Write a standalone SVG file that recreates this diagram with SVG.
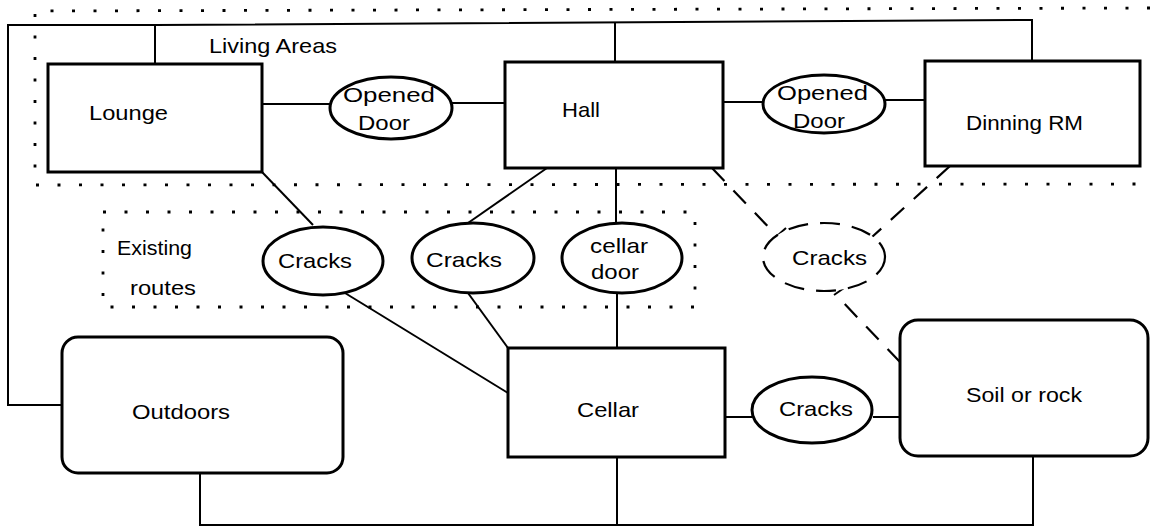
<svg xmlns="http://www.w3.org/2000/svg" width="1150" height="528" viewBox="0 0 1150 528">
<style>
.box{fill:#fff;stroke:#000;stroke-width:3}
.ell{fill:#fff;stroke:#000;stroke-width:3}
.dell{fill:#fff;stroke:#000;stroke-width:2.2;stroke-dasharray:20 12}
.ln{fill:none;stroke:#000;stroke-width:2}
.dln{fill:none;stroke:#000;stroke-width:2.2;stroke-dasharray:18 13}
.dot{fill:none;stroke:#000;stroke-width:2.8;stroke-dasharray:3 18.5}
text{font-family:"Liberation Sans",Arial,sans-serif;font-size:21px;fill:#000}
</style>
<rect width="1150" height="528" fill="#fff"/>
<g id="groups">
<path class="dot" d="M1150,8 L35,11 L35,185 L1150,184"/>
<path class="dot" d="M103,212 L695,212 L695,307 L103,307 Z"/>
<text x="209" y="53" textLength="128" lengthAdjust="spacingAndGlyphs">Living Areas</text>
<text x="117" y="255" textLength="75" lengthAdjust="spacingAndGlyphs">Existing</text>
<text x="130" y="295" textLength="66" lengthAdjust="spacingAndGlyphs">routes</text>
</g>
<g id="connectors">
<path class="ln" d="M155,64 L155,25 L8,25 L8,405 L62,405"/>
<path class="ln" d="M155,25 L1032,20 L1032,61"/>
<path class="ln" d="M615,22 L615,62"/>
<path class="ln" d="M262,104 L330,104"/>
<path class="ln" d="M452,103 L505,103"/>
<path class="ln" d="M723,102 L763,102"/>
<path class="ln" d="M885,100 L925,100"/>
<path class="ln" d="M262,172 L313,225"/>
<path class="ln" d="M345,293 L508,393"/>
<path class="ln" d="M547,168 L468,223"/>
<path class="ln" d="M468,293 L508,348"/>
<path class="ln" d="M616,168 L616,223"/>
<path class="ln" d="M617,293 L617,348"/>
<path class="ln" d="M725,417 L752,417"/>
<path class="ln" d="M873,417 L900,417"/>
<path class="ln" d="M200,473 L200,525 L1033,525 L1033,456"/>
<path class="ln" d="M617,457 L617,525"/>
<path class="dln" d="M712,168 L777,236"/>
<path class="ln" d="M768,244 L786,228"/>
<path class="dln" d="M950,166 L872,237"/>
<path class="dln" d="M900,362 L838,297"/>
<path class="ln" d="M844,288 L834,295"/>
</g>
<g id="lounge"><rect class="box" x="48" y="64" width="214" height="108"/><text x="89" y="120" textLength="79" lengthAdjust="spacingAndGlyphs">Lounge</text></g>
<g id="hall"><rect class="box" x="505" y="62" width="218" height="106"/><text x="562" y="117" textLength="38" lengthAdjust="spacingAndGlyphs">Hall</text></g>
<g id="dinning"><rect class="box" x="925" y="61" width="215" height="105"/><text x="966" y="130" textLength="117" lengthAdjust="spacingAndGlyphs">Dinning RM</text></g>
<g id="door1"><ellipse class="ell" cx="391" cy="108" rx="61" ry="31"/><text x="343" y="102" textLength="92" lengthAdjust="spacingAndGlyphs">Opened</text><text x="358" y="130" textLength="52" lengthAdjust="spacingAndGlyphs">Door</text></g>
<g id="door2"><ellipse class="ell" cx="824" cy="104" rx="61" ry="29"/><text x="777" y="100" textLength="91" lengthAdjust="spacingAndGlyphs">Opened</text><text x="793" y="128" textLength="52" lengthAdjust="spacingAndGlyphs">Door</text></g>
<g id="cracks1"><ellipse class="ell" cx="323" cy="261" rx="60" ry="34"/><text x="278" y="268" textLength="74" lengthAdjust="spacingAndGlyphs">Cracks</text></g>
<g id="cracks2"><ellipse class="ell" cx="473" cy="258" rx="61" ry="35"/><text x="426" y="267" textLength="76" lengthAdjust="spacingAndGlyphs">Cracks</text></g>
<g id="cellardoor"><ellipse class="ell" cx="622" cy="258" rx="60" ry="35"/><text x="590" y="253" textLength="58" lengthAdjust="spacingAndGlyphs">cellar</text><text x="591" y="279" textLength="48" lengthAdjust="spacingAndGlyphs">door</text></g>
<g id="cracks3"><ellipse class="dell" cx="824" cy="257" rx="61" ry="34"/><text x="792" y="265" textLength="75" lengthAdjust="spacingAndGlyphs">Cracks</text></g>
<g id="outdoors"><rect class="box" x="62" y="337" width="281" height="136" rx="16"/><text x="132" y="419" textLength="98" lengthAdjust="spacingAndGlyphs">Outdoors</text></g>
<g id="cellar"><rect class="box" x="508" y="348" width="217" height="109"/><text x="577" y="417" textLength="62" lengthAdjust="spacingAndGlyphs">Cellar</text></g>
<g id="cracks4"><ellipse class="ell" cx="812" cy="410" rx="60" ry="33"/><text x="779" y="416" textLength="74" lengthAdjust="spacingAndGlyphs">Cracks</text></g>
<g id="soil"><rect class="box" x="900" y="320" width="248" height="136" rx="18"/><text x="966" y="402" textLength="116" lengthAdjust="spacingAndGlyphs">Soil or rock</text></g>
</svg>
